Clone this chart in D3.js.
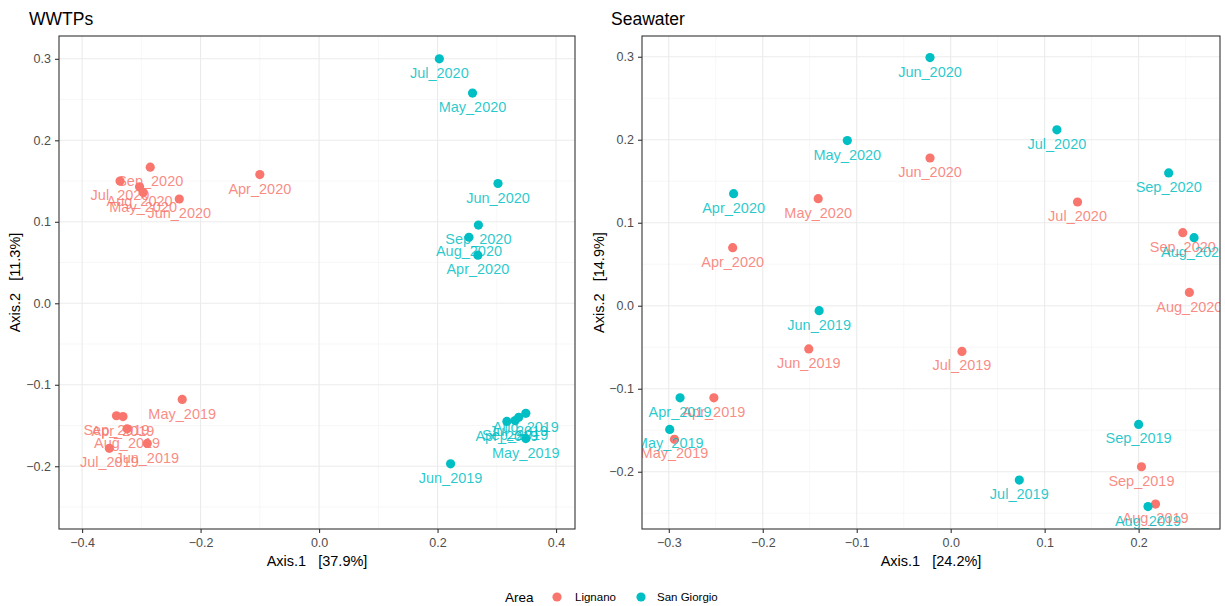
<!DOCTYPE html>
<html><head><meta charset="utf-8">
<script src="https://cdn.jsdelivr.net/npm/d3@7"></script>
<style>body{margin:0;background:#fff;} svg{display:block;font-family:"Liberation Sans",Arial,sans-serif;}</style>
</head><body>
<svg id="c" width="1225" height="606"></svg>
<script>
// ---- Data ----
const areas = ["Lignano", "San Giorgio"];
const areaColors = ["#F8766D", "#00BFC4"];

// WWTPs panel
const wwtpSample = ["Apr_2020","Sep_2020","Jul_2020","Aug_2020","May_2020","Jun_2020",
  "May_2019","Sep_2019","Apr_2019","Aug_2019","Jun_2019","Jul_2019",
  "Jul_2020","May_2020","Jun_2020","Sep_2020","Aug_2020","Apr_2020",
  "Apr_2019","Sep_2019","Jul_2019","Aug_2019","May_2019","Jun_2019"];
const wwtpArea = ["Lignano","Lignano","Lignano","Lignano","Lignano","Lignano",
  "Lignano","Lignano","Lignano","Lignano","Lignano","Lignano",
  "San Giorgio","San Giorgio","San Giorgio","San Giorgio","San Giorgio","San Giorgio",
  "San Giorgio","San Giorgio","San Giorgio","San Giorgio","San Giorgio","San Giorgio"];
const wwtpAxis1 = [-0.100,-0.285,-0.336,-0.303,-0.297,-0.236,
  -0.231,-0.342,-0.331,-0.324,-0.290,-0.354,
  0.203,0.259,0.302,0.269,0.253,0.268,
  0.317,0.331,0.337,0.349,0.349,0.222];
const wwtpAxis2 = [0.158,0.167,0.150,0.143,0.136,0.128,
  -0.118,-0.138,-0.139,-0.154,-0.172,-0.178,
  0.300,0.258,0.147,0.096,0.081,0.059,
  -0.145,-0.144,-0.140,-0.135,-0.166,-0.197];

// Seawater panel
const seaSample = ["Jun_2020","May_2020","Jul_2020","Apr_2020","Sep_2020","Aug_2020",
  "Jun_2019","Jul_2019","Apr_2019","May_2019","Sep_2019","Aug_2019",
  "Jun_2020","May_2020","Jul_2020","Sep_2020","Apr_2020","Aug_2020",
  "Jun_2019","Apr_2019","May_2019","Sep_2019","Jul_2019","Aug_2019"];
const seaArea = wwtpArea.slice();
const seaAxis1 = [-0.022,-0.141,0.135,-0.232,0.247,0.254,
  -0.151,0.012,-0.252,-0.294,0.203,0.218,
  -0.022,-0.110,0.113,0.232,-0.231,0.259,
  -0.140,-0.288,-0.299,0.200,0.073,0.210];
const seaAxis2 = [0.178,0.129,0.125,0.070,0.088,0.016,
  -0.052,-0.055,-0.111,-0.161,-0.194,-0.239,
  0.299,0.199,0.212,0.160,0.135,0.082,
  -0.006,-0.111,-0.149,-0.143,-0.210,-0.242];

const wwtpXTicks = [-0.4,-0.2,0.0,0.2,0.4];
const wwtpXMinor = [-0.3,-0.1,0.1,0.3];
const wwtpYTicks = [-0.2,-0.1,0.0,0.1,0.2,0.3];
const wwtpYMinor = [-0.25,-0.15,-0.05,0.05,0.15,0.25];
const seaXTicks = [-0.3,-0.2,-0.1,0.0,0.1,0.2];
const seaXMinor = [-0.25,-0.15,-0.05,0.05,0.15,0.25];
const seaYTicks = [-0.2,-0.1,0.0,0.1,0.2,0.3];
const seaYMinor = [-0.25,-0.15,-0.05,0.05,0.15,0.25];

// ---- Drawing ----
const svg = d3.select("#c");
const color = d3.scaleOrdinal().domain(areas).range(areaColors);

function panel(cfg){
  const {id, title, xlab, ylab, left, right, top, bottom, xdom, ydom,
         xt, xm, yt, ym, names, area, ax1, ax2, titleX, ylabX} = cfg;
  const x = d3.scaleLinear().domain(xdom).range([left, right]);
  const y = d3.scaleLinear().domain(ydom).range([bottom, top]);
  const g = svg.append("g");
  g.append("rect").attr("x",left).attr("y",top).attr("width",right-left).attr("height",bottom-top).attr("fill","#fff");
  const grid = g.append("g");
  grid.selectAll(".xm").data(xm).join("line").attr("x1",d=>x(d)).attr("x2",d=>x(d)).attr("y1",top).attr("y2",bottom).attr("stroke","#F2F2F2").attr("stroke-width",0.6);
  grid.selectAll(".ym").data(ym).join("line").attr("y1",d=>y(d)).attr("y2",d=>y(d)).attr("x1",left).attr("x2",right).attr("stroke","#F2F2F2").attr("stroke-width",0.6);
  grid.selectAll(".xt").data(xt).join("line").attr("x1",d=>x(d)).attr("x2",d=>x(d)).attr("y1",top).attr("y2",bottom).attr("stroke","#EBEBEB").attr("stroke-width",1.1);
  grid.selectAll(".yt").data(yt).join("line").attr("y1",d=>y(d)).attr("y2",d=>y(d)).attr("x1",left).attr("x2",right).attr("stroke","#EBEBEB").attr("stroke-width",1.1);

  const clipId = "clip"+id;
  svg.append("clipPath").attr("id",clipId).append("rect").attr("x",left).attr("y",top).attr("width",right-left).attr("height",bottom-top);
  const data = names.map((n,i)=>({n, a:area[i], x:ax1[i], y:ax2[i]}));
  const pg = g.append("g").attr("clip-path",`url(#${clipId})`);
  pg.selectAll("circle").data(data).join("circle")
    .attr("cx",d=>x(d.x)).attr("cy",d=>y(d.y)).attr("r",4.6).attr("fill",d=>color(d.a));
  pg.selectAll("text").data(data).join("text")
    .attr("x",d=>x(d.x)).attr("y",d=>y(d.y)+14).attr("dy","0.35em")
    .attr("text-anchor","middle").attr("font-size",14.5)
    .attr("fill",d=>color(d.a)).attr("fill-opacity",0.85).text(d=>d.n);

  g.append("rect").attr("x",left).attr("y",top).attr("width",right-left).attr("height",bottom-top)
    .attr("fill","none").attr("stroke","#333").attr("stroke-width",1.1);

  const fmt = d3.format(".1f");
  const xa = g.append("g").attr("transform",`translate(0,${bottom})`)
    .call(d3.axisBottom(x).tickValues(xt).tickFormat(d=>fmt(d)).tickSize(4).tickPadding(5));
  const ya = g.append("g").attr("transform",`translate(${left},0)`)
    .call(d3.axisLeft(y).tickValues(yt).tickFormat(d=>fmt(d)).tickSize(4).tickPadding(4));
  [xa,ya].forEach(a=>{
    a.select(".domain").remove();
    a.selectAll("line").attr("stroke","#333").attr("stroke-width",1.1);
    a.selectAll("text").attr("fill","#4D4D4D").attr("font-size",12.5).attr("font-family","Liberation Sans, Arial, sans-serif");
  });
  g.append("text").attr("x",(left+right)/2).attr("y",bottom+37).attr("text-anchor","middle")
    .attr("font-size",14.5).attr("fill","#000").attr("xml:space","preserve").text(xlab);
  g.append("text").attr("transform",`translate(${ylabX},${(top+bottom)/2}) rotate(-90)`).attr("text-anchor","middle")
    .attr("font-size",14.5).attr("fill","#000").attr("xml:space","preserve").text(ylab);
  g.append("text").attr("x",titleX).attr("y",25).attr("font-size",17.5).attr("fill","#000").text(title);
}

panel({id:"w", title:"WWTPs", xlab:"Axis.1   [37.9%]", ylab:"Axis.2   [11.3%]",
  left:59, right:575, top:36, bottom:529, xdom:[-0.439,0.432], ydom:[-0.277,0.328],
  xt:wwtpXTicks, xm:wwtpXMinor, yt:wwtpYTicks, ym:wwtpYMinor,
  names:wwtpSample, area:wwtpArea, ax1:wwtpAxis1, ax2:wwtpAxis2, titleX:29, ylabX:20});
panel({id:"s", title:"Seawater", xlab:"Axis.1   [24.2%]", ylab:"Axis.2   [14.9%]",
  left:642, right:1220, top:36, bottom:529, xdom:[-0.3285,0.2866], ydom:[-0.269,0.325],
  xt:seaXTicks, xm:seaXMinor, yt:seaYTicks, ym:seaYMinor,
  names:seaSample, area:seaArea, ax1:seaAxis1, ax2:seaAxis2, titleX:611, ylabX:604});

// Legend
const lg = svg.append("g");
lg.append("text").attr("x",505).attr("y",602).attr("font-size",13.5).attr("fill","#000").text("Area");
const legX = [557, 641];
const legTX = [575, 657];
areas.forEach((a,i)=>{
  lg.append("circle").attr("cx",legX[i]).attr("cy",597).attr("r",4.6).attr("fill",areaColors[i]);
  lg.append("text").attr("x",legTX[i]).attr("y",601).attr("font-size",11.5).attr("fill","#000").text(a);
});
</script>
</body></html>
